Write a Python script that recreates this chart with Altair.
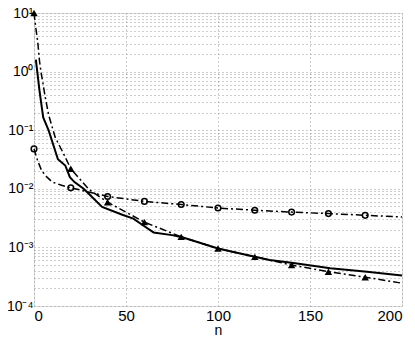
import altair as alt
import pandas as pd

# ---- data ----
solid_n = [1, 3, 5, 8, 13, 17, 19.5, 22, 27, 37, 48, 54, 60, 65, 75, 81, 100, 120, 128, 141, 161, 181, 200]
solid_v = [1.6, 0.47, 0.165, 0.098, 0.032, 0.025, 0.0158, 0.013, 0.010, 0.0049, 0.0036, 0.0031,
           0.0023, 0.0018, 0.00162, 0.00148, 0.00096, 0.00069, 0.00061, 0.00054, 0.00044, 0.000385, 0.00033]

circ_n = [0, 2, 4, 6, 10, 15, 20, 40, 60, 80, 100, 120, 140, 160, 180, 200]
circ_v = [0.048, 0.030, 0.021, 0.017, 0.013, 0.0115, 0.0104, 0.0074, 0.0061, 0.0054,
          0.0047, 0.0043, 0.0040, 0.00378, 0.00353, 0.0033]

tri_n = [0, 1, 2, 3, 4, 5, 6, 8, 11.5, 16, 20, 30, 40, 60, 80, 100, 120, 140, 160, 180, 200]
tri_v = [10, 5.5, 3.3, 1.5, 0.9, 0.6, 0.38, 0.18, 0.076, 0.04, 0.022, 0.0097, 0.0059,
         0.0027, 0.00151, 0.00096, 0.00069, 0.0005, 0.000385, 0.00031, 0.000245]

x_ticks = [0, 50, 100, 150, 200]
y_exponents = [1, 0, -1, -2, -3, -4]
y_grid = [m * 10.0 ** k for k in range(-4, 1) for m in range(1, 10)] + [10.0]

sup = {1: "¹", 0: "⁰", -1: "⁻¹", -2: "⁻²", -3: "⁻³", -4: "⁻⁴"}

# ---- build tables ----
solid_df = pd.DataFrame({"n": solid_n, "v": solid_v})
circ_df = pd.DataFrame({"n": circ_n, "v": circ_v})
tri_df = pd.DataFrame({"n": tri_n, "v": tri_v})

e_expr = "round(log(datum.value)/LN10)"
label_expr = f"abs(log(datum.value)/LN10 - {e_expr}) > 1e-6 ? '' : "
for e in y_exponents:
    label_expr += f"{e_expr} == {e} ? '10{sup[e]}' : "
label_expr += "''"

font = "Liberation Sans"

x_enc = alt.X(
    "n:Q",
    scale=alt.Scale(domain=[0, 200], nice=False),
    axis=alt.Axis(
        values=x_ticks, title="n", grid=True, gridColor="#9a9a9a", gridDash=[1, 3],
        domain=False, ticks=False, labelFont=font, labelFontSize=15, labelColor="black",
        labelPadding=2, titleFont=font, titleFontSize=14, titleFontWeight="normal",
        titleColor="black", titlePadding=0,
    ),
)
y_enc = alt.Y(
    "v:Q",
    scale=alt.Scale(type="log", domain=[1e-4, 10], nice=False),
    axis=alt.Axis(
        values=y_grid, labelExpr=label_expr, title=None, grid=True, gridColor="#9a9a9a",
        gridDash=[1, 3], domain=False, ticks=False, labelFont=font, labelFontSize=14,
        labelColor="black", labelPadding=1, labelOverlap=False, labelBound=False,
    ),
)

solid = alt.Chart(solid_df).mark_line(color="black", strokeWidth=2).encode(x=x_enc, y=y_enc)

dashdot = [7, 3, 2, 3]
circ_line = alt.Chart(circ_df).mark_line(color="black", strokeWidth=1.5, strokeDash=dashdot).encode(
    x="n:Q", y="v:Q")
circ_pts = alt.Chart(circ_df).transform_filter("datum.n % 20 == 0 && datum.n < 200").mark_point(
    shape="circle", filled=False, color="black", size=32, strokeWidth=1.5, opacity=1).encode(
    x="n:Q", y="v:Q")

tri_line = alt.Chart(tri_df).mark_line(color="black", strokeWidth=1.5, strokeDash=dashdot).encode(
    x="n:Q", y="v:Q")
tri_pts = alt.Chart(tri_df).transform_filter("datum.n % 20 == 0 && datum.n < 200").mark_point(
    shape="triangle-up", filled=True, color="black", size=55, opacity=1).encode(
    x="n:Q", y="v:Q")

chart = alt.layer(solid, circ_line, tri_line, circ_pts, tri_pts).properties(
    width=368, height=293,
    autosize=alt.AutoSizeParams(type="none"),
    padding={"left": 26, "top": 5, "right": 5, "bottom": 31},
).configure_view(stroke="black", strokeWidth=1).configure(background="white")

chart.save("out.html", embed_options={"renderer": "svg", "actions": False})
